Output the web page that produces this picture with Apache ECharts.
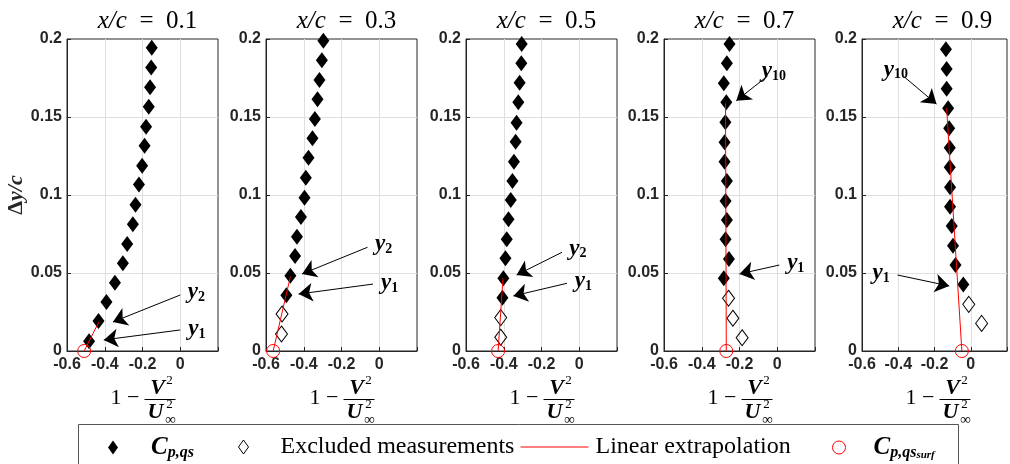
<!DOCTYPE html>
<html>
<head>
<meta charset="utf-8">
<title>Pressure coefficient profiles</title>
<script src="https://cdn.jsdelivr.net/npm/echarts@6/dist/echarts.min.js"></script>
<style>
  html, body { margin: 0; padding: 0; background: #ffffff; }
  #chart { width: 1010px; height: 464px; }
</style>
</head>
<body>
<div id="chart"></div>
<script>
// Chordwise stations (x/c) shown left to right
const stations = ['0.1', '0.3', '0.5', '0.7', '0.9'];

// Axis ticks
const cpTicks = [-0.6, -0.4, -0.2, 0];
const cpRange = [-0.6, 0.2];
const dyTicks = [0, 0.05, 0.1, 0.15, 0.2];

// Retained measurements, one list per station: 1 - V^2/U^2 and wall distance Δy/c
const cpQs = [
  [-0.483, -0.433, -0.391, -0.346, -0.304, -0.281, -0.251, -0.237, -0.219, -0.202, -0.189, -0.181, -0.167, -0.160, -0.154, -0.151],
  [-0.492, -0.471, -0.446, -0.436, -0.415, -0.396, -0.389, -0.375, -0.354, -0.341, -0.327, -0.317, -0.304, -0.296],
  [-0.407, -0.402, -0.391, -0.384, -0.375, -0.363, -0.354, -0.346, -0.337, -0.332, -0.323, -0.316, -0.307, -0.305],
  [-0.283, -0.256, -0.274, -0.267, -0.274, -0.267, -0.279, -0.279, -0.275, -0.270, -0.283, -0.267, -0.253],
  [-0.041, -0.084, -0.098, -0.105, -0.114, -0.114, -0.116, -0.116, -0.119, -0.125, -0.133, -0.133, -0.137]
];
const dyQs = [
  [0.0062, 0.0192, 0.0314, 0.0438, 0.0562, 0.0686, 0.0812, 0.0938, 0.1068, 0.1188, 0.1316, 0.1438, 0.1566, 0.1690, 0.1817, 0.1944],
  [0.0357, 0.0483, 0.0609, 0.0733, 0.0859, 0.0983, 0.1111, 0.1239, 0.1363, 0.1487, 0.1613, 0.1737, 0.1863, 0.1989],
  [0.0342, 0.0466, 0.0594, 0.0716, 0.0844, 0.0968, 0.1090, 0.1213, 0.1342, 0.1463, 0.1594, 0.1720, 0.1844, 0.1968],
  [0.0466, 0.0590, 0.0716, 0.0840, 0.0962, 0.1090, 0.1213, 0.1338, 0.1466, 0.1594, 0.1716, 0.1844, 0.1968],
  [0.0427, 0.0551, 0.0675, 0.0801, 0.0925, 0.1049, 0.1178, 0.1303, 0.1428, 0.1556, 0.1681, 0.1808, 0.1934]
];

// Excluded near-wall measurements
const cpExcluded = [
  [],
  [-0.518, -0.515],
  [-0.416, -0.416],
  [-0.186, -0.235, -0.258],
  [0.060, -0.011]
];
const dyExcluded = [
  [],
  [0.0109, 0.0237],
  [0.0088, 0.0214],
  [0.0085, 0.0210, 0.0338],
  [0.0177, 0.0299]
];

// Linear extrapolation to the surface: wall value and upper end of the fit
const cpSurf = [-0.509, -0.562, -0.430, -0.270, -0.049];
const cpFitEnd = [-0.432, -0.471, -0.404, -0.274, -0.133];
const dyFitEnd = [0.0184, 0.0476, 0.0466, 0.1588, 0.1556];

// Annotation arrows (tail -> head) with subscript of the labelled point
const arrowIndex = [['2', '1'], ['2', '1'], ['2', '1'], ['10', '1'], ['10', '1']];
const arrowTail = [
  [[0.000, 0.0359], [0.000, 0.0135]],
  [[-0.062, 0.0665], [-0.033, 0.0429]],
  [[-0.091, 0.0633], [-0.065, 0.0434]],
  [[-0.051, 0.1763], [0.011, 0.0551]],
  [[-0.379, 0.1769], [-0.404, 0.0487]]
];
const arrowHead = [
  [[-0.357, 0.0186], [-0.405, 0.0071]],
  [[-0.409, 0.0494], [-0.427, 0.0365]],
  [[-0.332, 0.0487], [-0.349, 0.0353]],
  [[-0.217, 0.1604], [-0.200, 0.0494]],
  [[-0.189, 0.1583], [-0.119, 0.0417]]
];

// ---- layout and styling ----
const gridLeft = [67, 266, 466, 664, 862];
const GRID_TOP = 39, GRID_W = 151, GRID_H = 312;
const INK = '#262626';
const SERIF = '"Liberation Serif", "Times New Roman", serif';
const SANS = '"Liberation Sans", Arial, Helvetica, sans-serif';

const fmt = v => String(+(+v).toFixed(3));

const chart = echarts.init(document.getElementById('chart'), null, { renderer: 'canvas' });

const grids = [], xAxes = [], yAxes = [], series = [], titles = [], graphics = [];

const subRich = {
  y: { fontFamily: SERIF, fontStyle: 'italic', fontWeight: 'bold', fontSize: 23, color: '#000', lineHeight: 24 },
  s: { fontFamily: SERIF, fontWeight: 'bold', fontSize: 14, color: '#000', lineHeight: 14, verticalAlign: 'bottom' }
};

stations.forEach((st, i) => {
  const cx = gridLeft[i] + GRID_W / 2;
  grids.push({
    left: gridLeft[i], top: GRID_TOP, width: GRID_W, height: GRID_H,
    show: true, borderColor: INK, borderWidth: 1, backgroundColor: 'transparent'
  });
  xAxes.push({
    type: 'value', gridIndex: i, min: cpRange[0], max: cpRange[1], interval: 0.2,
    axisLine: { show: true, onZero: false, lineStyle: { color: INK, width: 1 } },
    axisTick: { show: true, inside: true, length: 4, lineStyle: { color: INK } },
    axisLabel: {
      margin: 6, color: INK, fontFamily: SANS, fontWeight: 'bold', fontSize: 16,
      formatter: v => (cpTicks.some(t => Math.abs(t - v) < 1e-9) ? fmt(v) : '')
    },
    splitLine: { show: true, showMinLine: false, showMaxLine: false, lineStyle: { color: '#dfdfdf', width: 1 } }
  });
  yAxes.push({
    type: 'value', gridIndex: i, min: dyTicks[0], max: dyTicks[dyTicks.length - 1], interval: 0.05,
    axisLine: { show: true, onZero: false, lineStyle: { color: INK, width: 1 } },
    axisTick: { show: true, inside: true, length: 4, lineStyle: { color: INK } },
    axisLabel: { margin: 5, color: INK, fontFamily: SANS, fontWeight: 'bold', fontSize: 16, formatter: fmt },
    splitLine: { show: true, showMinLine: false, showMaxLine: false, lineStyle: { color: '#dfdfdf', width: 1 } },
    name: i === 0 ? '{d|Δ}{i|y/c}' : '',
    nameLocation: 'middle', nameGap: 38, nameRotate: 90,
    nameTextStyle: {
      rich: {
        d: { fontFamily: SERIF, fontWeight: 'bold', fontSize: 22, color: INK },
        i: { fontFamily: SERIF, fontWeight: 'bold', fontStyle: 'italic', fontSize: 22, color: INK }
      }
    }
  });

  titles.push({
    text: '{i|x/c}{r|  =  ' + st + '}',
    left: cx, top: 4, textAlign: 'center',
    textStyle: {
      fontWeight: 'normal',
      rich: {
        i: { fontFamily: SERIF, fontStyle: 'italic', fontWeight: 'normal', fontSize: 25, color: '#000' },
        r: { fontFamily: SERIF, fontWeight: 'normal', fontSize: 25, color: '#000' }
      }
    }
  });

  const arrows = arrowTail[i].map((t, k) => [
    { coord: t, name: arrowIndex[i][k] },
    { coord: arrowHead[i][k] }
  ]);

  series.push({
    type: 'scatter', name: 'Cp,qs', xAxisIndex: i, yAxisIndex: i,
    data: cpQs[i].map((c, k) => [c, dyQs[i][k]]),
    symbol: 'diamond', symbolSize: [12, 16],
    itemStyle: { color: '#000000', opacity: 1 }, z: 3, silent: true,
    markLine: {
      silent: true, animation: false,
      symbol: ['none', 'arrow'], symbolSize: 14,
      lineStyle: { color: '#000000', width: 1, type: 'solid' },
      label: {
        show: true, position: 'start', distance: 8,
        formatter: p => '{y|y}{s|' + p.name + '}',
        rich: subRich
      },
      emphasis: { disabled: true },
      data: arrows
    }
  });
  series.push({
    type: 'scatter', name: 'Excluded measurements', xAxisIndex: i, yAxisIndex: i,
    data: cpExcluded[i].map((c, k) => [c, dyExcluded[i][k]]),
    symbol: 'diamond', symbolSize: [12, 16],
    itemStyle: { color: 'rgba(255,255,255,0)', borderColor: '#000000', borderWidth: 1, opacity: 1 },
    z: 3, silent: true
  });
  series.push({
    type: 'line', name: 'Linear extrapolation', xAxisIndex: i, yAxisIndex: i,
    data: [[cpSurf[i], 0], [cpFitEnd[i], dyFitEnd[i]]],
    symbol: 'none', showSymbol: false, clip: false,
    lineStyle: { color: '#ff0000', width: 1 }, itemStyle: { color: '#ff0000' },
    z: 4, silent: true
  });
  series.push({
    type: 'scatter', name: 'Cp,qs surf', xAxisIndex: i, yAxisIndex: i,
    data: [[cpSurf[i], 0]],
    symbol: 'circle', symbolSize: 13, clip: false,
    itemStyle: { color: 'rgba(255,255,255,0)', borderColor: '#ff0000', borderWidth: 1, opacity: 1 },
    z: 5, silent: true
  });

  // horizontal axis label: 1 - V^2 / U_inf^2
  const t = (text, x, y, font, align) => ({
    type: 'text', x, y, z: 1, silent: true,
    style: { text, font, fill: '#000', align: align || 'center', textAlign: align || 'center', verticalAlign: 'middle', textVerticalAlign: 'middle' }
  });
  graphics.push({
    type: 'group', children: [
      t('1 −', cx - 3, 398, '22px ' + SERIF, 'right'),
      { type: 'line', z: 1, silent: true, shape: { x1: cx + 2, y1: 399.5, x2: cx + 33, y2: 399.5 }, style: { stroke: '#000', lineWidth: 1 } },
      t('V', cx + 15, 388, 'italic bold 22px ' + SERIF),
      t('2', cx + 27, 381, '13px ' + SERIF),
      t('U', cx + 13, 412, 'italic bold 22px ' + SERIF),
      t('2', cx + 27, 405, '13px ' + SERIF),
      t('∞', cx + 28, 420, '15px ' + SERIF)
    ]
  });
});

// legend frame
graphics.push({
  type: 'rect', z: 3, silent: true,
  shape: { x: 78.5, y: 424.5, width: 880, height: 50 },
  style: { fill: '#ffffff', stroke: '#555555', lineWidth: 1 }
});

const legendRich = {
  c: { fontFamily: SERIF, fontStyle: 'italic', fontWeight: 'bold', fontSize: 25, color: '#000', lineHeight: 26 },
  s: { fontFamily: SERIF, fontStyle: 'italic', fontWeight: 'bold', fontSize: 16, color: '#000', lineHeight: 16, verticalAlign: 'bottom' },
  ss: { fontFamily: SERIF, fontStyle: 'italic', fontWeight: 'bold', fontSize: 11, color: '#000', lineHeight: 9, verticalAlign: 'bottom' },
  n: { fontFamily: SERIF, fontSize: 24, color: '#000', lineHeight: 26 }
};
const legendText = {
  'Cp,qs': '{c|C}{s|p,qs}',
  'Excluded measurements': '{n|Excluded measurements}',
  'Linear extrapolation': '{n|Linear extrapolation}',
  'Cp,qs surf': '{c|C}{s|p,qs}{ss|surf}'
};
const makeLegend = (item, left, w, h, padLeft) => ({
  data: [item], left, top: 435, orient: 'horizontal', padding: 0,
  itemWidth: w, itemHeight: h, selectedMode: false, z: 5,
  formatter: name => legendText[name],
  textStyle: { padding: [0, 0, 0, padLeft], rich: legendRich }
});

const option = {
  animation: false,
  backgroundColor: '#ffffff',
  title: titles,
  grid: grids,
  xAxis: xAxes,
  yAxis: yAxes,
  series,
  legend: [
    makeLegend({ name: 'Cp,qs', icon: 'diamond', itemStyle: { color: '#000', opacity: 1 } }, 108, 10, 14, 28),
    makeLegend({ name: 'Excluded measurements', icon: 'diamond', itemStyle: { color: 'rgba(255,255,255,0)', borderColor: '#000', borderWidth: 1, opacity: 1 } }, 238, 10, 14, 27),
    makeLegend({ name: 'Linear extrapolation', itemStyle: { opacity: 0 }, lineStyle: { color: '#ff0000', width: 1, opacity: 1 } }, 520, 68, 14, 2),
    makeLegend({ name: 'Cp,qs surf', icon: 'circle', itemStyle: { color: 'rgba(255,255,255,0)', borderColor: '#ff0000', borderWidth: 1, opacity: 1 } }, 832, 13, 13, 23)
  ],
  graphic: { elements: graphics }
};

chart.setOption(option);
</script>
</body>
</html>
